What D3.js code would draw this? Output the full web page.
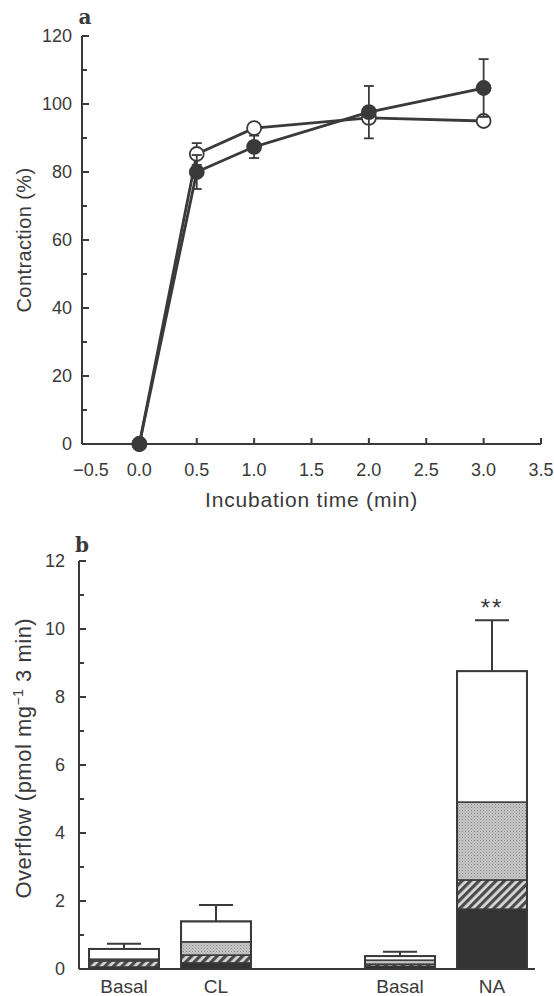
<!DOCTYPE html>
<html>
<head>
<meta charset="utf-8">
<script src="https://cdn.jsdelivr.net/npm/d3@7/dist/d3.min.js"></script>
<style>
  body { margin: 0; background: #fff; }
  text { font-family: "Liberation Sans", Arial, sans-serif; fill: #3a3a3a; }
</style>
</head>
<body>
<div id="chart"></div>
<script>
// panel a: contraction vs incubation time
var times = [0, 0.5, 1, 2, 3];
var openMean = [0, 85.3, 92.9, 95.9, 95];
var openErr = [0, 3.2, 0, 0, 0];
var filledMean = [0, 80, 87.4, 97.6, 104.7];
var filledErr = [0, 5, 3.3, 7.7, 8.5];
var xTicksA = [-0.5, 0, 0.5, 1, 1.5, 2, 2.5, 3, 3.5];
var yTicksA = [0, 20, 40, 60, 80, 100, 120];

// panel b: overflow, stacked segments (bottom to top)
var barKeys = ["b1", "cl", "b2", "na"];
var barLabels = ["Basal", "CL", "Basal", "NA"];
var slots = ["b1", "cl", "gap", "b2", "na"];
var blackSeg = [0.06, 0.18, 0.08, 1.76];
var hatchSeg = [0.18, 0.23, 0.06, 0.86];
var stippleSeg = [0.05, 0.39, 0.12, 2.29];
var whiteSeg = [0.30, 0.60, 0.12, 3.85];
var barErr = [0.15, 0.48, 0.13, 1.5];
var yTicksB = [0, 2, 4, 6, 8, 10, 12];

function init(){
  var w = 554, h = 996;
  var ink = "#3a3a3a";

  var svg = d3.select("#chart").append("svg")
      .attr("width", w)
      .attr("height", h);

  var defs = svg.append("defs");
  var stip = defs.append("pattern")
      .attr("id", "stipple")
      .attr("width", 3).attr("height", 3)
      .attr("patternUnits", "userSpaceOnUse");
  stip.append("rect").attr("width", 3).attr("height", 3).attr("fill", "#c8c8c8");
  stip.append("rect").attr("width", 1).attr("height", 1).attr("fill", "#8a8a8a");
  stip.append("rect").attr("x", 1.5).attr("y", 1.5).attr("width", 1).attr("height", 1).attr("fill", "#9a9a9a");

  var hatch = defs.append("pattern")
      .attr("id", "hatch")
      .attr("width", 6).attr("height", 6)
      .attr("patternUnits", "userSpaceOnUse")
      .attr("patternTransform", "rotate(45)");
  hatch.append("rect").attr("width", 6).attr("height", 6).attr("fill", "#d8d8d8");
  hatch.append("rect").attr("width", 3.2).attr("height", 6).attr("fill", "#4a4a4a");

  // ---------- panel a ----------
  var xA = d3.scaleLinear().domain([-0.5, 3.5]).range([82, 541]);
  var yA = d3.scaleLinear().domain([0, 120]).range([444, 36]);

  var axA = svg.append("g").attr("stroke", ink).attr("stroke-width", 2).attr("fill", "none");
  axA.append("line").attr("x1", xA(-0.5)).attr("x2", xA(3.5)).attr("y1", yA(0)).attr("y2", yA(0));
  axA.append("line").attr("x1", xA(-0.5)).attr("x2", xA(-0.5)).attr("y1", yA(0)).attr("y2", yA(120));
  axA.selectAll(".xt").data(xTicksA.slice(1)).enter().append("line")
      .attr("x1", function(d){ return xA(d); })
      .attr("x2", function(d){ return xA(d); })
      .attr("y1", yA(0)).attr("y2", yA(0) - 6);
  axA.selectAll(".yt").data(d3.range(10, 121, 10)).enter().append("line")
      .attr("x1", xA(-0.5))
      .attr("x2", function(d){ return xA(-0.5) + (d % 20 == 0 ? 7 : 5); })
      .attr("y1", function(d){ return yA(d); })
      .attr("y2", function(d){ return yA(d); });

  svg.selectAll(".xla").data(xTicksA).enter().append("text")
      .attr("x", function(d){ return xA(d) + (d < 0 ? 9 : 0); })
      .attr("y", 476)
      .attr("text-anchor", "middle")
      .attr("font-size", 18)
      .text(function(d){ return d < 0 ? "\u22120.5" : d.toFixed(1); });
  svg.selectAll(".yla").data(yTicksA).enter().append("text")
      .attr("x", 72)
      .attr("y", function(d){ return yA(d) + 6; })
      .attr("text-anchor", "end")
      .attr("font-size", 18)
      .text(function(d){ return d; });

  svg.append("text").attr("x", xA(1.5)).attr("y", 507)
      .attr("text-anchor", "middle").attr("font-size", 21)
      .attr("letter-spacing", 0.8)
      .text("Incubation time (min)");
  svg.append("text")
      .attr("transform", "translate(31," + yA(60) + ") rotate(-90)")
      .attr("text-anchor", "middle").attr("font-size", 20)
      .attr("letter-spacing", 0.4)
      .text("Contraction (%)");
  svg.append("text").attr("x", 85).attr("y", 24)
      .attr("text-anchor", "middle").attr("font-size", 20)
      .attr("font-weight", "bold")
      .style("font-family", "'DejaVu Serif', serif")
      .text("a");

  var line = d3.line()
      .x(function(d, i){ return xA(times[i]); })
      .y(function(d){ return yA(d); });

  function drawSeries(means, errs, fill){
    var g = svg.append("g");
    g.append("path").datum(means)
        .attr("d", line)
        .attr("fill", "none")
        .attr("stroke", ink)
        .attr("stroke-width", 2.8);
    var pts = means.map(function(m, i){ return { x: times[i], m: m, e: errs[i] }; })
        .filter(function(p){ return p.e > 0; });
    var eb = g.selectAll(".eb").data(pts).enter().append("g")
        .attr("stroke", ink).attr("stroke-width", 1.8);
    eb.append("line")
        .attr("x1", function(p){ return xA(p.x); })
        .attr("x2", function(p){ return xA(p.x); })
        .attr("y1", function(p){ return yA(p.m + p.e); })
        .attr("y2", function(p){ return yA(p.m - p.e); });
    [1, -1].forEach(function(s){
      eb.append("line")
          .attr("x1", function(p){ return xA(p.x) - 5; })
          .attr("x2", function(p){ return xA(p.x) + 5; })
          .attr("y1", function(p){ return yA(p.m + s * p.e); })
          .attr("y2", function(p){ return yA(p.m + s * p.e); });
    });
    g.selectAll("circle").data(means).enter().append("circle")
        .attr("cx", function(d, i){ return xA(times[i]); })
        .attr("cy", function(d){ return yA(d); })
        .attr("r", 7)
        .attr("fill", fill)
        .attr("stroke", ink)
        .attr("stroke-width", 1.8);
  }
  drawSeries(openMean, openErr, "#fff");
  drawSeries(filledMean, filledErr, ink);

  // ---------- panel b ----------
  var xB = d3.scaleBand().domain(slots).range([78, 538])
      .paddingInner(0.24).paddingOuter(0.12);
  var yB = d3.scaleLinear().domain([0, 12]).range([969, 561]);

  var axB = svg.append("g").attr("stroke", ink).attr("stroke-width", 2).attr("fill", "none");
  axB.append("line").attr("x1", 79).attr("x2", 535).attr("y1", yB(0)).attr("y2", yB(0));
  axB.append("line").attr("x1", 79).attr("x2", 79).attr("y1", yB(0)).attr("y2", yB(12));
  axB.selectAll(".yt").data(d3.range(1, 13)).enter().append("line")
      .attr("x1", 79)
      .attr("x2", function(d){ return 79 + (d % 2 == 0 ? 7 : 5); })
      .attr("y1", function(d){ return yB(d); })
      .attr("y2", function(d){ return yB(d); });

  svg.selectAll(".ylb").data(yTicksB).enter().append("text")
      .attr("x", 65)
      .attr("y", function(d){ return yB(d) + 6; })
      .attr("text-anchor", "end")
      .attr("font-size", 18)
      .text(function(d){ return d; });

  var yLab = svg.append("text")
      .attr("transform", "translate(31," + yB(6.2) + ") rotate(-90)")
      .attr("text-anchor", "middle").attr("font-size", 22)
      .attr("letter-spacing", 0.5);
  yLab.append("tspan").text("Overflow (pmol mg");
  yLab.append("tspan").attr("dy", -8).attr("font-size", 14).text("\u22121");
  yLab.append("tspan").attr("dy", 8).text(" 3 min)");

  svg.append("text").attr("x", 82).attr("y", 552)
      .attr("text-anchor", "middle").attr("font-size", 20)
      .attr("font-weight", "bold")
      .style("font-family", "'DejaVu Serif', serif")
      .text("b");

  var rows = barKeys.map(function(k, i){
    return { key: k, black: blackSeg[i], hatch: hatchSeg[i], stipple: stippleSeg[i], white: whiteSeg[i] };
  });
  var layers = ["black", "hatch", "stipple", "white"];
  var fills = { black: "#333", hatch: "url(#hatch)", stipple: "url(#stipple)", white: "#fff" };
  var stacked = d3.stack().keys(layers)(rows);

  // error bars behind bars
  svg.append("g").selectAll("g").data(rows).enter().append("g")
      .attr("stroke", ink).attr("stroke-width", 2)
      .each(function(d, i){
        var top = stacked[3][i][1];
        var cx = xB(d.key) + xB.bandwidth() / 2;
        d3.select(this).append("line")
            .attr("x1", cx).attr("x2", cx)
            .attr("y1", yB(top)).attr("y2", yB(top + barErr[i]));
        d3.select(this).append("line")
            .attr("x1", cx - 17).attr("x2", cx + 17)
            .attr("y1", yB(top + barErr[i])).attr("y2", yB(top + barErr[i]));
      });

  svg.append("g").selectAll("g").data(stacked).enter().append("g")
      .attr("fill", function(d){ return fills[d.key]; })
      .selectAll("rect").data(function(d){ return d; }).enter().append("rect")
      .attr("x", function(d){ return xB(d.data.key); })
      .attr("y", function(d){ return yB(d[1]); })
      .attr("width", xB.bandwidth())
      .attr("height", function(d){ return yB(d[0]) - yB(d[1]); })
      .attr("stroke", ink)
      .attr("stroke-width", 1.5);

  // outline of each whole bar
  svg.append("g").selectAll("rect").data(rows).enter().append("rect")
      .attr("x", function(d){ return xB(d.key); })
      .attr("y", function(d, i){ return yB(stacked[3][i][1]); })
      .attr("width", xB.bandwidth())
      .attr("height", function(d, i){ return yB(0) - yB(stacked[3][i][1]); })
      .attr("fill", "none")
      .attr("stroke", ink)
      .attr("stroke-width", 2);

  svg.selectAll(".xlb").data(barKeys).enter().append("text")
      .attr("x", function(d){ return xB(d) + xB.bandwidth() / 2; })
      .attr("y", 993)
      .attr("text-anchor", "middle")
      .attr("font-size", 19)
      .text(function(d, i){ return barLabels[i]; });

  // significance mark over NA
  svg.append("text")
      .attr("x", xB("na") + xB.bandwidth() / 2)
      .attr("y", yB(stacked[3][3][1] + barErr[3]) - 4)
      .attr("text-anchor", "middle")
      .attr("font-size", 24)
      .attr("letter-spacing", 2)
      .text("**");
}

window.onload = init;
</script>
</body>
</html>
